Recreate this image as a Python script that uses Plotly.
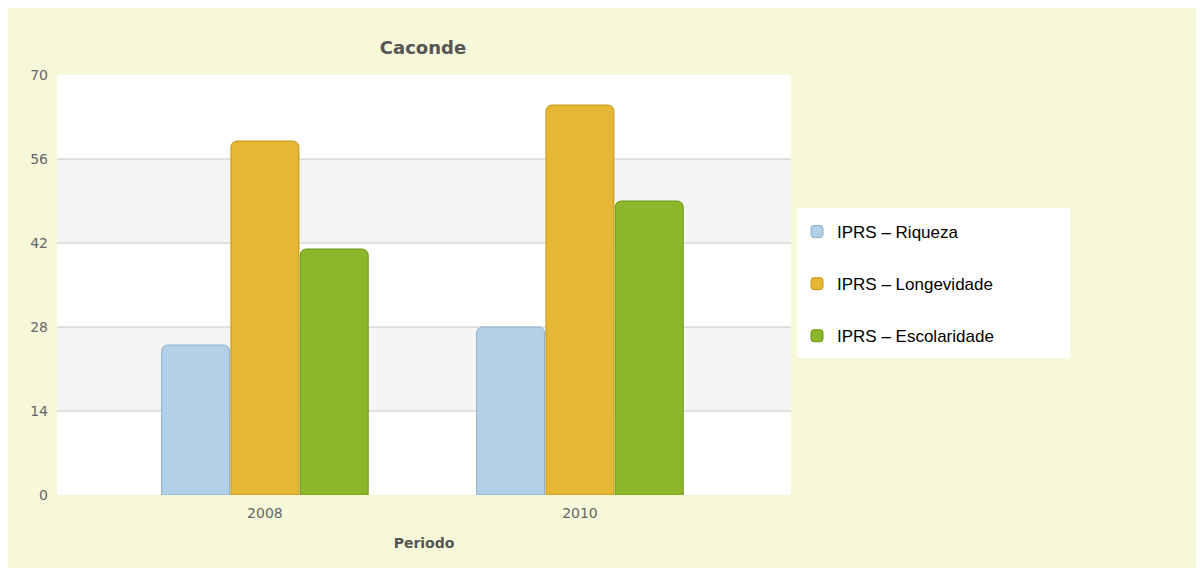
import plotly.graph_objects as go

periods = ["2008", "2010"]
riqueza = [25, 28]
longevidade = [59, 65]
escolaridade = [41, 49]
series_names = ["IPRS – Riqueza", "IPRS – Longevidade", "IPRS – Escolaridade"]
y_ticks = [0, 14, 28, 42, 56, 70]

fills = ["#b2d0e8", "#e6b734", "#8cb72b"]
lines = ["#8eadc9", "#c2960f", "#6a9512"]

fig = go.Figure()
for i, (name, vals) in enumerate(zip(series_names, [riqueza, longevidade, escolaridade])):
    fig.add_trace(go.Bar(
        x=periods, y=vals, name=name, legendgroup=name,
        marker=dict(color=fills[i], line=dict(color=lines[i], width=1), cornerradius=6),
    ))

shapes = []
# alternating bands
for k in range(len(y_ticks) - 1):
    if k % 2 == 1:
        shapes.append(dict(type="rect", xref="x domain", yref="y", x0=0, x1=1,
                           y0=y_ticks[k], y1=y_ticks[k + 1], fillcolor="#f5f5f5",
                           line=dict(width=0), layer="below"))
# grid lines
for v in y_ticks[1:-1]:
    shapes.append(dict(type="line", xref="x domain", yref="y", x0=0, x1=1, y0=v, y1=v,
                       line=dict(color="#c8c8c8", width=1), layer="below"))
# legend box background
shapes.append(dict(type="rect", xref="paper", yref="paper",
                   x0=(797 - 57) / 734, x1=(1070 - 57) / 734,
                   y0=(495 - 358) / 420, y1=(495 - 208) / 420,
                   fillcolor="#ffffff", line=dict(width=0), layer="above"))

W, H = 1196, 560
fig.update_layout(
    width=W, height=H,
    margin=dict(l=49, r=413, t=67, b=73),
    paper_bgcolor="#f7f8d9",
    plot_bgcolor="#ffffff",
    shapes=shapes,
    barmode="group",
    bargap=0.34,
    bargroupgap=0.02,
    title=dict(text="<b>Caconde</b>", x=415 / W, xanchor="center", y=1 - 40 / H, yanchor="middle",
               font=dict(family="DejaVu Sans", size=18, color="#555555")),
    xaxis=dict(type="category", range=[-0.66, 1.67], showgrid=False, showline=False, ticks="",
               ticklabelstandoff=8,
               tickfont=dict(family="DejaVu Sans", size=14, color="#666666"),
               title=dict(text="<b>Periodo</b>", font=dict(family="DejaVu Sans", size=14, color="#555555"), standoff=18)),
    yaxis=dict(range=[0, 70], tickvals=y_ticks, showgrid=False, zeroline=False, showline=False, ticks="",
               ticklabelstandoff=8,
               tickfont=dict(family="DejaVu Sans", size=14, color="#666666")),
    legend=dict(x=(797 - 57) / 734, y=(495 - 214) / 420, xanchor="left", yanchor="top",
                bgcolor="rgba(0,0,0,0)", font=dict(family="Liberation Sans", size=17, color="#000000"),
                traceorder="grouped", tracegroupgap=27, itemwidth=30),
    showlegend=True,
)

fig.write_html("out.html")
